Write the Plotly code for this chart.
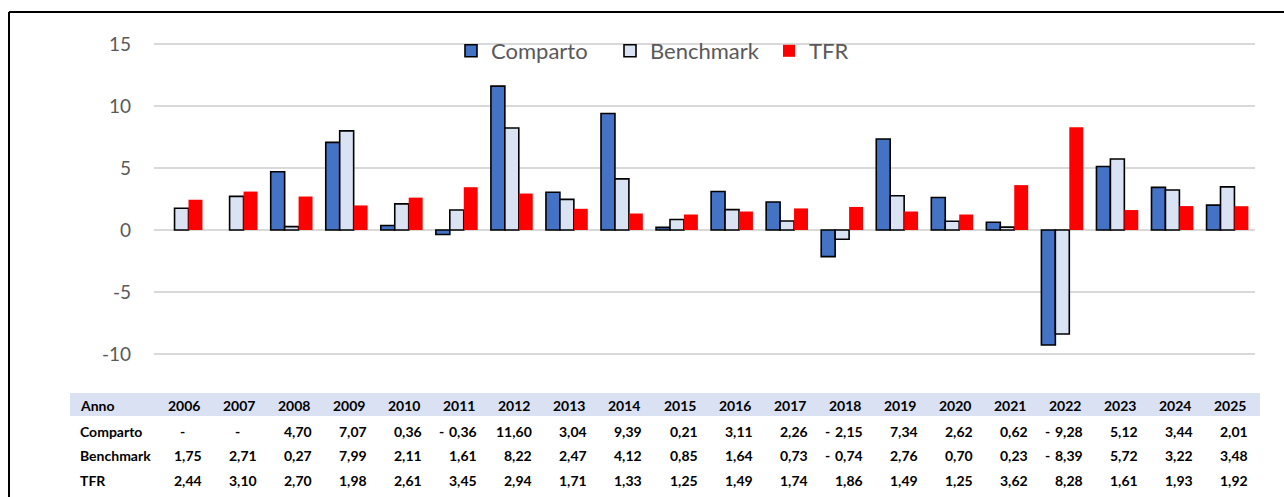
import plotly.graph_objects as go

# ---------------- data ----------------
years = [str(y) for y in range(2006, 2026)]
comparto = [None, None, 4.70, 7.07, 0.36, -0.36, 11.60, 3.04, 9.39, 0.21,
            3.11, 2.26, -2.15, 7.34, 2.62, 0.62, -9.28, 5.12, 3.44, 2.01]
benchmark = [1.75, 2.71, 0.27, 7.99, 2.11, 1.61, 8.22, 2.47, 4.12, 0.85,
             1.64, 0.73, -0.74, 2.76, 0.70, 0.23, -8.39, 5.72, 3.22, 3.48]
tfr = [2.44, 3.10, 2.70, 1.98, 2.61, 3.45, 2.94, 1.71, 1.33, 1.25,
       1.49, 1.74, 1.86, 1.49, 1.25, 3.62, 8.28, 1.61, 1.93, 1.92]
y_ticks = [-10, -5, 0, 5, 10, 15]
y_ticktext = ["-10", "-5", "0", "5", "10", "15"]
row_labels = ["Anno", "Comparto", "Benchmark", "TFR"]

# ---------------- layout geometry ----------------
W, H = 1284, 497
L, R, T, B = 154, 29, 41, 140
PW = W - L - R
PH = H - T - B
YMIN, YMAX = -10.242, 15.242


def px(x):
    return (x - L) / PW


def py(y):
    return (H - B - y) / PH


FONT = "Lato"
GRAY = "#595959"

fig = go.Figure()
fig.add_bar(x=years, y=comparto, name="Comparto",
            marker=dict(color="#4472C4", line=dict(color="black", width=1.6)))
fig.add_bar(x=years, y=benchmark, name="Benchmark",
            marker=dict(color="#DAE3F3", line=dict(color="black", width=1.6)))
fig.add_bar(x=years, y=tfr, name="TFR",
            marker=dict(color="#FF0000", line=dict(color="#FF0000", width=0)))

annotations = []
row_y = [405, 431, 456, 480]

# row labels
for lbl, ry in zip(row_labels, row_y):
    annotations.append(dict(text=f"<b>{lbl}</b>", xref="paper", yref="paper",
                            x=px(78), y=py(ry), xanchor="left", yanchor="middle",
                            showarrow=False, font=dict(family=FONT, size=14, color="black")))

# header years
for i, yr in enumerate(years):
    annotations.append(dict(text=f"<b>{yr}</b>", xref="x", yref="paper",
                            x=i + 0.5, xshift=-7, y=py(row_y[0]), xanchor="right",
                            yanchor="middle", showarrow=False,
                            font=dict(family=FONT, size=14, color="black")))


def fmt(v):
    return f"{abs(v):.2f}".replace(".", ",")


for series, ry in zip([comparto, benchmark, tfr], row_y[1:]):
    for i, v in enumerate(series):
        f = dict(family=FONT, size=14, color="black")
        if v is None:
            annotations.append(dict(text="<b>-</b>", xref="x", yref="paper",
                                    x=i + 0.5, xshift=-22, y=py(ry), xanchor="right",
                                    yanchor="middle", showarrow=False, font=f))
            continue
        annotations.append(dict(text=f"<b>{fmt(v)}</b>", xref="x", yref="paper",
                                x=i + 0.5, xshift=-5, y=py(ry), xanchor="right",
                                yanchor="middle", showarrow=False, font=f))
        if v < 0:
            annotations.append(dict(text="<b>-</b>", xref="x", yref="paper",
                                    x=i - 0.5, xshift=8, y=py(ry), xanchor="left",
                                    yanchor="middle", showarrow=False, font=f))

shapes = [
    dict(type="rect", xref="paper", yref="paper", x0=px(70), x1=px(1260),
         y0=py(416), y1=py(393), fillcolor="#D9E1F2", line=dict(width=0), layer="below"),
    dict(type="line", xref="paper", yref="paper", x0=px(9), x1=px(1300),
         y0=py(12), y1=py(12), line=dict(color="black", width=2)),
    dict(type="line", xref="paper", yref="paper", x0=px(9), x1=px(9),
         y0=py(12), y1=py(510), line=dict(color="black", width=2)),
]

fig.update_layout(
    width=W, height=H,
    margin=dict(l=L, r=R, t=T, b=B, pad=0),
    paper_bgcolor="white", plot_bgcolor="white",
    barmode="group", bargap=0.24, bargroupgap=0,
    font=dict(family=FONT, color=GRAY),
    showlegend=True,
    legend=dict(orientation="h", x=px(451), xanchor="left", y=py(51), yanchor="middle",
                entrywidth=114, entrywidthmode="pixels",
                bgcolor="rgba(0,0,0,0)", font=dict(family=FONT, size=22, color=GRAY)),
    xaxis=dict(type="category", range=[-0.5, 19.5], showticklabels=False,
               showgrid=False, showline=False, ticks="", zeroline=False),
    yaxis=dict(range=[YMIN, YMAX], tickvals=y_ticks, ticktext=y_ticktext, showgrid=True,
               gridcolor="#D9D9D9", gridwidth=1.5, zeroline=True,
               zerolinecolor="#D9D9D9", zerolinewidth=1.5, showline=False,
               ticks="", ticklabelstandoff=22,
               tickfont=dict(family=FONT, size=19, color=GRAY)),
    annotations=annotations,
    shapes=shapes,
)

fig.write_html("out.html", config={"displayModeBar": False},
               post_script="document.body.style.margin='0';")
